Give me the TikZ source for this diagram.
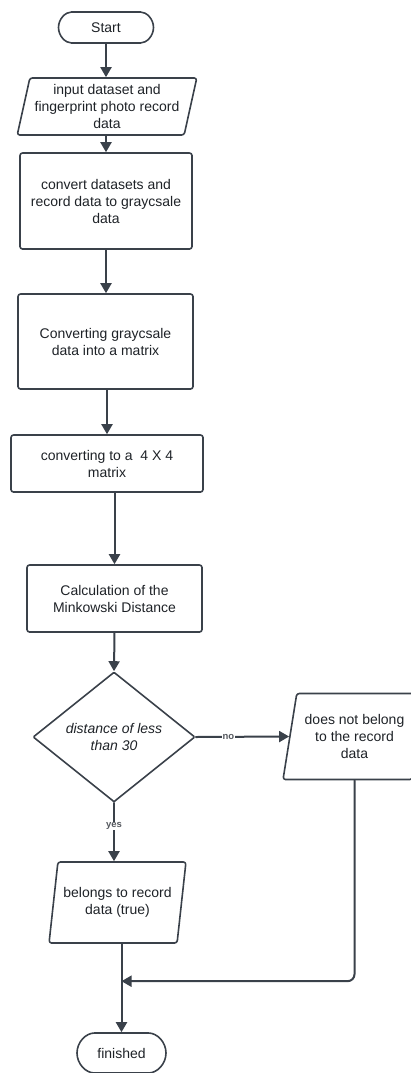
\documentclass[tikz,border=0pt]{standalone}
\usepackage{fontspec}
\setmainfont{Liberation Sans}
\usetikzlibrary{arrows.meta,shapes.geometric,shapes.misc}
\definecolor{edge}{HTML}{3A414A}
\definecolor{ink}{HTML}{1E2227}
\definecolor{tagink}{HTML}{55595F}
\tikzset{
  every picture/.style={line join=round, line cap=round, >={Triangle[length=10pt,width=11pt]}},
  box/.style={draw=edge, line width=1.6pt, rounded corners=2.5pt, align=center, text=ink,
    font=\fontsize{14}{17}\selectfont, inner sep=0pt},
  term/.style={box, rounded rectangle},
  proc/.style={box},
  io/.style={box, trapezium, trapezium left angle=75, trapezium right angle=105, trapezium stretches=true},
  decide/.style={box, diamond, rounded corners=1pt, font=\fontsize{14}{17}\selectfont\itshape},
  flow/.style={draw=edge, line width=2pt, ->},
  tag/.style={font=\fontsize{9.5}{10}\selectfont\bfseries, text=tagink, fill=white, inner sep=0.5pt},
}

\begin{document}
\begin{tikzpicture}[x=1pt,y=-1pt]
\useasboundingbox (0,0) rectangle (411,1073);
% boxes
\node[term, minimum width=95pt, minimum height=31pt] (start) at (106,27.5) {Start};
\node[io, minimum width=180pt, minimum height=57pt] (in) at (107,106.5) {input dataset and\\fingerprint photo record\\data};
\node[proc, minimum width=172pt, minimum height=96pt] (conv) at (106,201) {convert datasets and\\record data to graycsale\\data};
\node[proc, minimum width=175pt, minimum height=95pt] (gray) at (105.5,341.5) {Converting graycsale\\data into a matrix};
\node[proc, minimum width=192pt, minimum height=57pt] (mat) at (107,463.5) {converting to a~~4 X 4\\matrix};
\node[proc, minimum width=175pt, minimum height=67pt] (calc) at (114.5,598.5) {Calculation of the\\Minkowski Distance};
\node[decide, minimum width=162pt, minimum height=130pt] (dec) at (114,737) {distance of less\\than 30};
\node[io, minimum width=143pt, minimum height=86pt] (no) at (354.5,736.5) {does not belong\\to the record\\data};
\node[io, minimum width=137pt, minimum height=81pt] (belongs) at (117.5,902.5) {belongs to record\\data (true)};
\node[term, minimum width=89pt, minimum height=40pt] (fin) at (121.5,1053) {finished};
\coordinate (merge) at ([yshift=51pt]fin.north);
% connectors
\draw[flow] (start.south) -- (start.south |- in.north);
\draw[flow] (conv.north |- in.south) -- (conv.north);
\draw[flow] (conv.south) -- (conv.south |- gray.north);
\draw[flow] (gray.south -| mat.north) -- (mat.north);
\draw[flow] (mat.south -| calc.north) -- (calc.north);
\draw[flow] (calc.south) -- (dec.north);
\draw[flow] (dec.east) -- node[tag, pos=0.35] {no} (no.west);
\draw[flow] (dec.south) -- node[tag, pos=0.4] {yes} (dec.south |- belongs.north);
\draw[flow, rounded corners=7pt] (no.south -| no.center) |- (merge);
\draw[flow] (belongs.south -| fin.north) -- (fin.north);
\end{tikzpicture}
\end{document}
